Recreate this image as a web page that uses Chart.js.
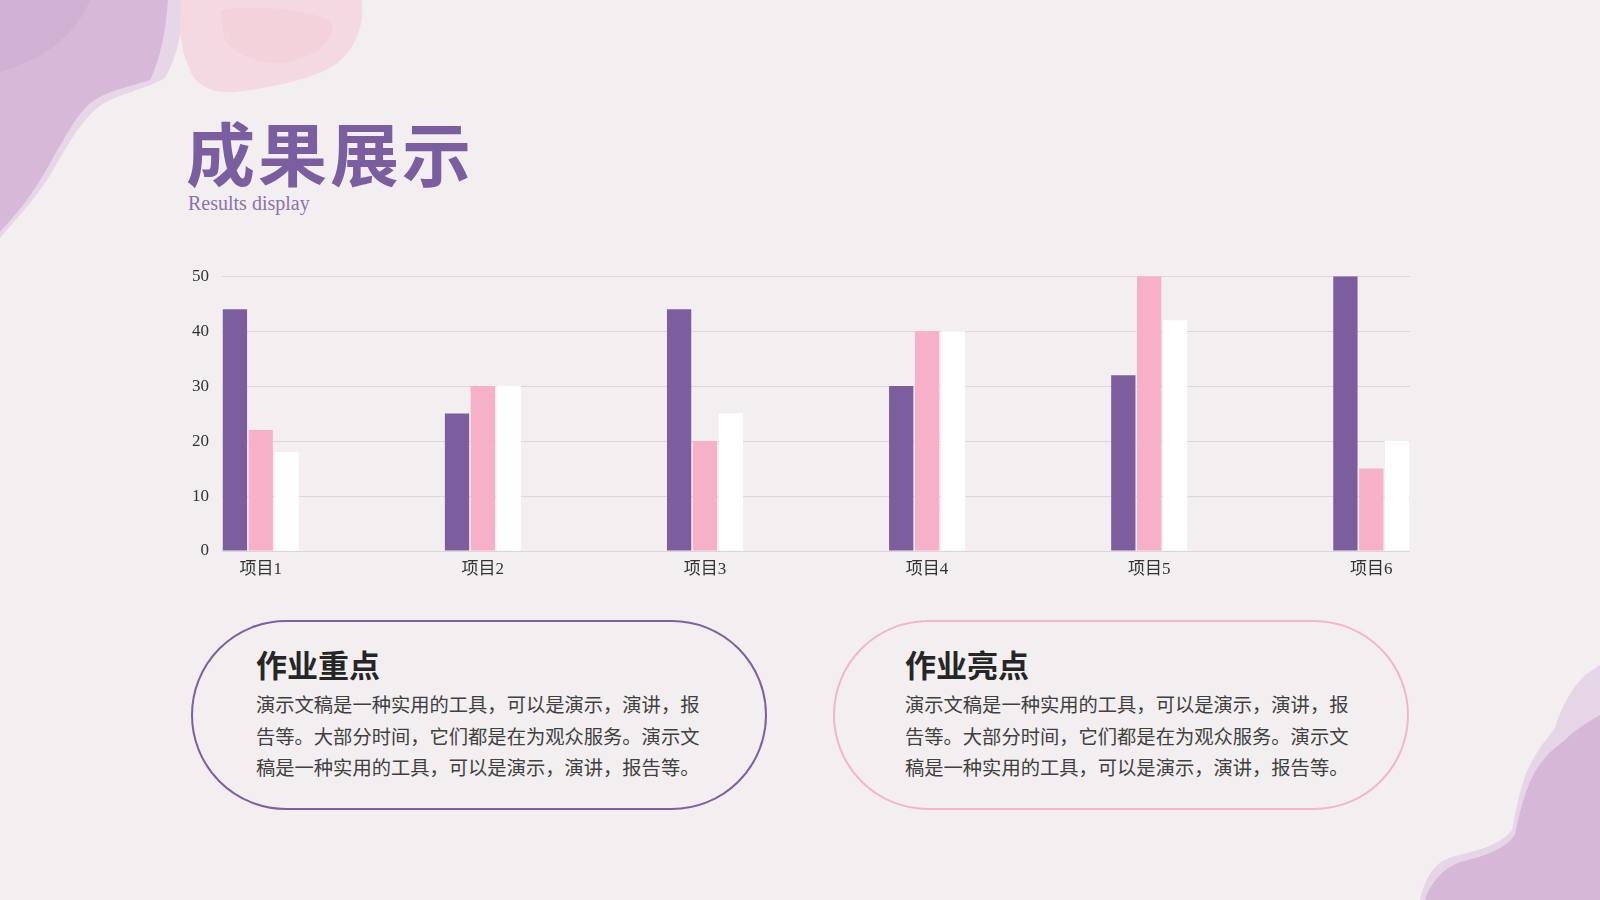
<!DOCTYPE html>
<html lang="zh">
<head>
    <meta charset="UTF-8">
    <title>成果展示</title>
    <script src="https://cdn.jsdelivr.net/npm/chart.js"></script>
    <style>
        body {
            margin: 0;
            width: 1600px;
            height: 900px;
            overflow: hidden;
            position: relative;
            background-color: #f3eff1;
            font-family: 'Noto Sans CJK SC', sans-serif;
        }
        .deco {
            position: absolute;
            left: 0;
            top: 0;
        }
        .title {
            position: absolute;
            left: 186px;
            top: 103px;
            font-size: 69px;
            font-weight: 700;
            color: #7b5ea0;
            letter-spacing: 3px;
            line-height: 96px;
        }
        .subtitle {
            position: absolute;
            left: 188px;
            top: 192px;
            font-family: 'Liberation Serif', serif;
            font-size: 20px;
            color: #8c70b0;
        }
        .chart-container {
            position: absolute;
            left: 180px;
            top: 253px;
            width: 1240px;
            height: 329px;
        }
        .pill {
            position: absolute;
            top: 620px;
            width: 576px;
            height: 190px;
            border-radius: 95px;
            box-sizing: border-box;
        }
        .pill h3 {
            position: absolute;
            left: 63px;
            top: 20px;
            margin: 0;
            font-size: 31px;
            font-weight: 700;
            color: #262626;
            line-height: 44px;
        }
        .pill p {
            position: absolute;
            left: 63px;
            top: 67px;
            margin: 0;
            font-size: 19.3px;
            color: #404040;
            line-height: 31.6px;
            white-space: nowrap;
        }
    </style>
</head>
<body>
    <svg class="deco" width="1600" height="900">
        <!-- top left wash -->
        <path d="M0,0 L185,0 C182,30 178,55 165,78 C140,92 110,95 95,110 C78,125 65,150 50,175 C38,195 20,215 0,238 Z" fill="#e6d6e7"/>
        <path d="M0,0 L168,0 C166,30 160,60 150,80 C125,88 100,92 85,108 C70,125 58,150 45,172 C32,195 18,212 0,232 Z" fill="#d7b8d8"/>
        <path d="M0,0 L90,0 C80,25 60,45 35,58 C20,65 8,70 0,72 Z" fill="#cfaed1" opacity="0.7"/>
        <!-- top pink wash -->
        <path d="M182,0 L362,0 C365,25 355,50 335,65 C310,80 270,88 235,92 C212,94 195,85 190,70 C180,50 178,25 182,0 Z" fill="#f5d9e2"/>
        <path d="M220,10 C250,5 300,8 330,20 C340,35 320,55 290,62 C260,66 235,55 225,40 Z" fill="#f2cfdb" opacity="0.8"/>
        <!-- bottom right wash -->
        <path d="M1600,665 L1600,900 L1420,900 C1425,880 1432,862 1455,856 C1480,850 1500,845 1512,830 C1518,800 1522,780 1530,765 C1540,745 1548,738 1555,728 C1560,710 1570,690 1585,675 Z" fill="#e6d4e7"/>
        <path d="M1600,715 L1600,900 L1425,900 C1430,885 1440,870 1460,862 C1490,855 1505,848 1515,835 C1520,810 1525,790 1535,772 C1545,755 1555,748 1565,740 C1575,730 1588,722 1600,715 Z" fill="#d6b7d8"/>
    </svg>

    <div class="title">成果展示</div>
    <div class="subtitle">Results display</div>

    <div class="chart-container">
        <canvas id="resultChart"></canvas>
    </div>

    <div class="pill" style="left:191px; border:2px solid #7e5fa0;">
        <h3>作业重点</h3>
        <p>演示文稿是一种实用的工具，可以是演示，演讲，报<br>告等。大部分时间，它们都是在为观众服务。演示文<br>稿是一种实用的工具，可以是演示，演讲，报告等。</p>
    </div>
    <div class="pill" style="left:833px; border:2px solid #f3b5cb;">
        <h3 style="left:70px;">作业亮点</h3>
        <p style="left:70px;">演示文稿是一种实用的工具，可以是演示，演讲，报<br>告等。大部分时间，它们都是在为观众服务。演示文<br>稿是一种实用的工具，可以是演示，演讲，报告等。</p>
    </div>

    <script>
        // chart values
        const categories = ['项目1', '项目2', '项目3', '项目4', '项目5', '项目6'];
        const series1 = [44, 25, 44, 30, 32, 50];
        const series2 = [22, 30, 20, 40, 50, 15];
        const series3 = [18, 30, 25, 40, 42, 20];
        const yTicks = [0, 10, 20, 30, 40, 50];

        const tickFont = {
            family: "'Liberation Serif', 'Noto Sans CJK SC', serif",
            size: 17
        };

        function toPoints(values) {
            return values.map((v, i) => ({ x: i, y: v }));
        }

        const colors = ['#7c5e9f', '#f6b1c9', '#ffffff'];

        const ctx = document.getElementById('resultChart').getContext('2d');
        new Chart(ctx, {
            type: 'bar',
            data: {
                datasets: [series1, series2, series3].map((values, index) => ({
                    label: '系列' + (index + 1),
                    data: toPoints(values),
                    backgroundColor: colors[index],
                    borderWidth: 0,
                    categoryPercentage: 0.349,
                    barPercentage: 0.94
                }))
            },
            options: {
                responsive: true,
                maintainAspectRatio: false,
                animation: false,
                layout: {
                    padding: { top: 15, right: 10, left: 0, bottom: 0 }
                },
                scales: {
                    x: {
                        type: 'linear',
                        offset: false,
                        min: -0.1745,
                        max: categories.length - 1 + 0.1745,
                        afterBuildTicks: function(scale) {
                            scale.ticks = categories.map((c, i) => ({ value: i }));
                        },
                        afterFit: function(scale) {
                            scale.height = 31;
                        },
                        ticks: {
                            autoSkip: false,
                            maxRotation: 0,
                            padding: 0,
                            color: '#333333',
                            font: tickFont,
                            callback: function(value) {
                                return categories[value];
                            }
                        },
                        grid: { display: false, offset: false },
                        border: { display: false }
                    },
                    y: {
                        min: yTicks[0],
                        max: yTicks[yTicks.length - 1],
                        afterBuildTicks: function(scale) {
                            scale.ticks = yTicks.map(v => ({ value: v }));
                        },
                        afterFit: function(scale) {
                            scale.width = 42;
                        },
                        ticks: {
                            padding: 13,
                            color: '#333333',
                            font: tickFont
                        },
                        grid: {
                            color: '#ddd5da',
                            lineWidth: 1,
                            drawTicks: false
                        },
                        border: { display: false }
                    }
                },
                plugins: {
                    legend: { display: false },
                    tooltip: { enabled: false }
                }
            }
        });
    </script>
</body>
</html>
